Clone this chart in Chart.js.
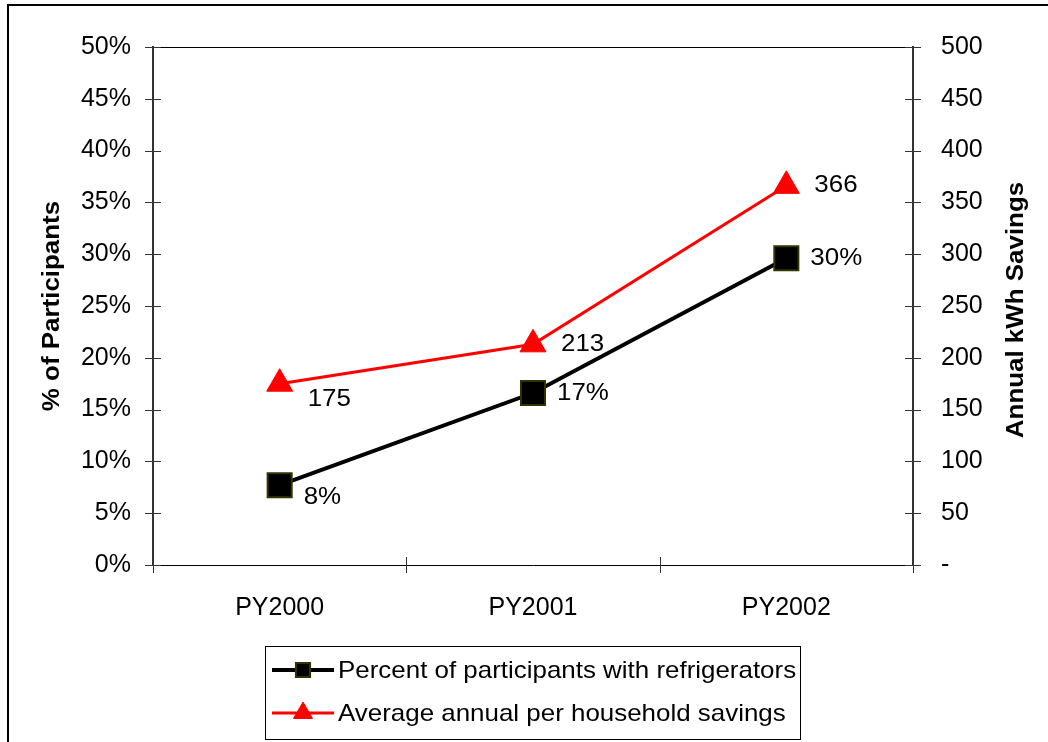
<!DOCTYPE html>
<html>
<head>
<meta charset="utf-8">
<script src="https://cdn.jsdelivr.net/npm/chart.js@4"></script>
<style>
  html, body { margin: 0; padding: 0; background: #fff; }
  #wrap { width: 1048px; height: 742px; position: relative; }
</style>
</head>
<body>
<div id="wrap"><canvas id="refChart"></canvas></div>
<script>
// data
const years = ["PY2000", "PY2001", "PY2002"];
const pctWithFridge = [7.7, 16.6, 29.6];
const pctLabels = ["8%", "17%", "30%"];
const kwhSavings = [175, 213, 366];
const kwhLabels = ["175", "213", "366"];
const seriesNames = ["Percent of participants with refrigerators", "Average annual per household savings"];
const axisTitles = ["% of Participants", "Annual kWh Savings"];

const FONT = "'Liberation Sans', Arial, sans-serif";
const STRETCH = 1.08; // the reference text is a bit wide

// text drawn a little stretched along its baseline
function wideText(ctx, text, x, y, rot) {
  ctx.save();
  ctx.translate(x, y);
  if (rot) ctx.rotate(rot);
  ctx.scale(STRETCH, 1);
  ctx.fillText(text, 0, 0);
  ctx.restore();
}

function drawMarker(ctx, style, cx, cy, r) {
  if (style === "rect") {
    const s = r * Math.SQRT1_2;
    ctx.rect(cx - s, cy - s, 2 * s, 2 * s);
  } else {
    let a = 0;
    ctx.moveTo(cx + Math.sin(a) * r, cy - Math.cos(a) * r);
    a += 2 * Math.PI / 3;
    ctx.lineTo(cx + Math.sin(a) * r, cy - Math.cos(a) * r);
    a += 2 * Math.PI / 3;
    ctx.lineTo(cx + Math.sin(a) * r, cy - Math.cos(a) * r);
    ctx.closePath();
  }
}

// draws the excel-ish bits chart.js can't do on its own
const excelBits = {
  id: "excelBits",
  afterDraw(chart) {
    const ctx = chart.ctx;
    const area = chart.chartArea;
    const x = chart.scales.x, y = chart.scales.y, y1 = chart.scales.y1;
    ctx.save();

    // outer frame
    ctx.strokeStyle = "#000";
    ctx.lineWidth = 2;
    ctx.strokeRect(8, 5, 1200, 900);

    // top line of plot area
    ctx.lineWidth = 1;
    ctx.beginPath();
    ctx.moveTo(area.left, Math.round(area.top) + 0.5);
    ctx.lineTo(area.right, Math.round(area.top) + 0.5);
    ctx.stroke();

    // cross tick marks
    ctx.strokeStyle = "#333";
    ctx.beginPath();
    y.ticks.forEach(t => {
      const py = Math.round(y.getPixelForValue(t.value)) + 0.5;
      ctx.moveTo(area.left - 8, py); ctx.lineTo(area.left + 8, py);
    });
    y1.ticks.forEach(t => {
      const py = Math.round(y1.getPixelForValue(t.value)) + 0.5;
      ctx.moveTo(area.right - 8, py); ctx.lineTo(area.right + 8, py);
    });
    const bounds = [area.left];
    for (let i = 0; i < years.length - 1; i++) {
      bounds.push((x.getPixelForValue(i) + x.getPixelForValue(i + 1)) / 2);
    }
    bounds.push(area.right);
    bounds.forEach(bx => {
      const px = Math.round(bx) + 0.5;
      ctx.moveTo(px, area.bottom - 8); ctx.lineTo(px, area.bottom + 8);
    });
    ctx.stroke();

    // axis titles, both read bottom-to-top
    ctx.fillStyle = "#000";
    ctx.font = "bold 24px " + FONT;
    ctx.textAlign = "center";
    ctx.textBaseline = "middle";
    const midY = (area.top + area.bottom) / 2;
    wideText(ctx, axisTitles[0], 52, midY, -Math.PI / 2);
    wideText(ctx, axisTitles[1], 1016, midY + 4, -Math.PI / 2);

    // point labels
    ctx.font = "24px " + FONT;
    ctx.textAlign = "left";
    const labelSets = [pctLabels, kwhLabels];
    const dxs = [24, 28];
    const dys = [[12, 0, 0], [16, 0, 0]];
    chart.data.datasets.forEach((ds, di) => {
      chart.getDatasetMeta(di).data.forEach((pt, i) => {
        wideText(ctx, labelSets[di][i], pt.x + dxs[di], pt.y + dys[di][i]);
      });
    });

    // legend box
    const lx = 265, ly = 646, lw = 535, lh = 93;
    ctx.lineWidth = 1;
    ctx.strokeStyle = "#000";
    ctx.strokeRect(lx + 0.5, ly + 0.5, lw, lh);
    const rows = [670, 713];
    chart.data.datasets.forEach((ds, di) => {
      const ry = rows[di];
      ctx.strokeStyle = ds.borderColor;
      ctx.lineWidth = ds.borderWidth;
      ctx.beginPath();
      ctx.moveTo(272, ry); ctx.lineTo(334, ry);
      ctx.stroke();
      ctx.fillStyle = ds.pointBackgroundColor;
      ctx.strokeStyle = ds.pointBorderColor;
      ctx.lineWidth = ds.pointBorderWidth;
      ctx.beginPath();
      drawMarker(ctx, ds.pointStyle, 303, ry, di === 0 ? 10 : 11);
      ctx.fill();
      ctx.stroke();
      ctx.fillStyle = "#000";
      ctx.font = "24px " + FONT;
      ctx.textAlign = "left";
      ctx.textBaseline = "middle";
      wideText(ctx, seriesNames[di], 338, ry + 1);
    });

    ctx.restore();
  }
};

const tickFont = { family: FONT, size: 25 };

new Chart(document.getElementById("refChart"), {
  type: "line",
  data: {
    labels: years,
    datasets: [
      {
        label: seriesNames[0],
        data: pctWithFridge,
        yAxisID: "y",
        borderColor: "#000",
        borderWidth: 4,
        pointStyle: "rect",
        pointRadius: 17,
        pointHoverRadius: 17,
        pointBackgroundColor: "#000",
        pointBorderColor: "#333300",
        pointBorderWidth: 2,
        tension: 0
      },
      {
        label: seriesNames[1],
        data: kwhSavings,
        yAxisID: "y1",
        borderColor: "#ff0000",
        borderWidth: 3,
        pointStyle: "triangle",
        pointRadius: 15,
        pointHoverRadius: 15,
        pointBackgroundColor: "#ff0000",
        pointBorderColor: "#ff0000",
        pointBorderWidth: 1,
        tension: 0
      }
    ]
  },
  options: {
    responsive: true,
    maintainAspectRatio: false,
    animation: false,
    layout: { padding: { top: 47, left: 0, right: 0, bottom: 0 } },
    plugins: {
      legend: { display: false },
      tooltip: { enabled: false }
    },
    scales: {
      x: {
        offset: true,
        grid: { display: false },
        border: { display: true, color: "#000", width: 1 },
        ticks: { font: tickFont, color: "#000", padding: 20, maxRotation: 0 },
        afterFit: s => { s.height = 177; }
      },
      y: {
        position: "left",
        min: 0, max: 50,
        grid: { display: false },
        border: { display: true, color: "#333", width: 2 },
        ticks: { stepSize: 5, font: tickFont, color: "#000", padding: 14, callback: v => v + "%" },
        afterFit: s => { s.width = 153; }
      },
      y1: {
        position: "right",
        min: 0, max: 500,
        grid: { display: false },
        border: { display: true, color: "#333", width: 2 },
        ticks: { stepSize: 50, font: tickFont, color: "#000", padding: 20, callback: v => v === 0 ? "-" : v },
        afterFit: s => { s.width = 135; }
      }
    }
  },
  plugins: [excelBits]
});
</script>
</body>
</html>
